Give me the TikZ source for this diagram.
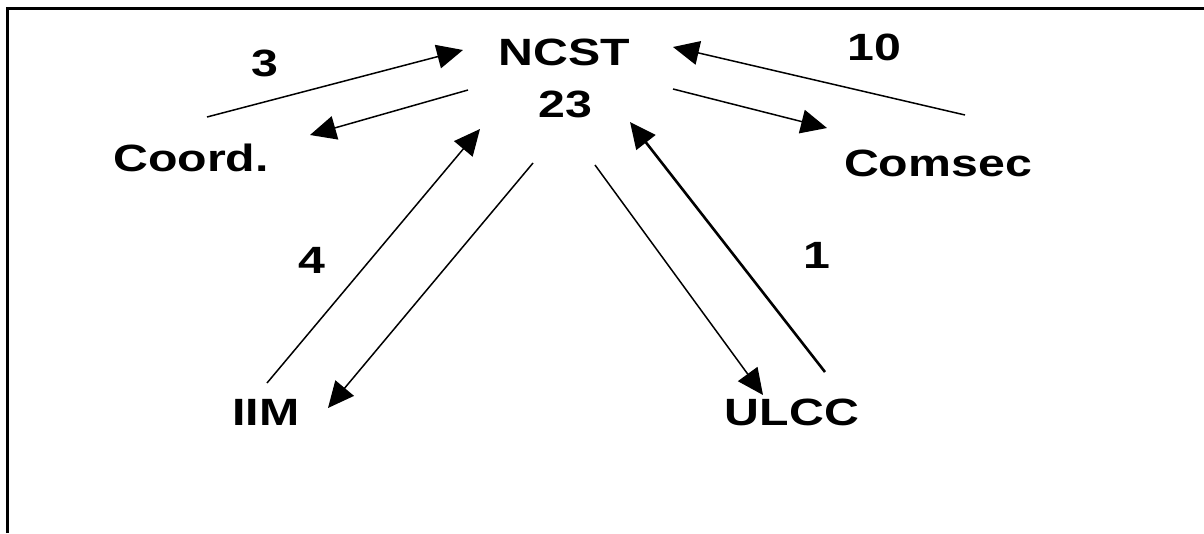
\documentclass[tikz,border=0pt]{standalone}
\usepackage{fontspec}
\newfontfamily\labfont{Liberation Sans}[FakeStretch=1.27]
\usetikzlibrary{arrows.meta}
\begin{document}
\begin{tikzpicture}[x=1pt,y=-1pt,
  lab/.style={font=\labfont\bfseries\fontsize{38}{42}\selectfont, inner sep=0pt, anchor=base},
  flow/.style={line width=1.5pt, -{Triangle[length=26pt,width=24pt]}},
  heavyflow/.style={flow, line width=2.6pt}]
\useasboundingbox (0,0) rectangle (1204,533);
% open frame: top edge and left edge
\draw[line width=3pt] (7.5,533) -- (7.5,8.5) -- (1204,8.5);

% labels
\node[lab] (ncst) at (564,65) {NCST};
\node[lab] (cnt) at (565,117) {23};
\node[lab] (n3) at (265,76) {3};
\node[lab] (n10) at (874,60) {10};
\node[lab] (coord) at (191,171) {Coord.};
\node[lab] (comsec) at (938,176) {Comsec};
\node[lab] (n4) at (312,273) {4};
\node[lab] (n1) at (817,268) {1};
\node[lab] (iim) at (266,425) {IIM};
\node[lab] (ulcc) at (792,425) {ULCC};

% connector end points
\coordinate (coordOut) at (207,117);
\coordinate (ncstInL) at (463,50);
\coordinate (ncstOutL) at (468,90);
\coordinate (coordIn) at (310,135);
\coordinate (comsecOut) at (965,115);
\coordinate (ncstInR) at (673,47);
\coordinate (ncstOutR) at (673,89);
\coordinate (comsecIn) at (827,128);
\coordinate (iimOut) at (267,383);
\coordinate (ncstInIIM) at (480,129);
\coordinate (ncstOutIIM) at (533,163);
\coordinate (iimIn) at (328,408);
\coordinate (ncstOutULCC) at (595,165);
\coordinate (ulccIn) at (763,395);
\coordinate (ulccOut) at (825,372);
\coordinate (ncstInULCC) at (630,122);

% connectors
\draw[flow] (coordOut) -- (ncstInL);
\draw[flow] (ncstOutL) -- (coordIn);
\draw[flow] (comsecOut) -- (ncstInR);
\draw[flow] (ncstOutR) -- (comsecIn);
\draw[flow] (iimOut) -- (ncstInIIM);
\draw[flow] (ncstOutIIM) -- (iimIn);
\draw[flow] (ncstOutULCC) -- (ulccIn);
\draw[heavyflow] (ulccOut) -- (ncstInULCC);
\end{tikzpicture}
\end{document}
